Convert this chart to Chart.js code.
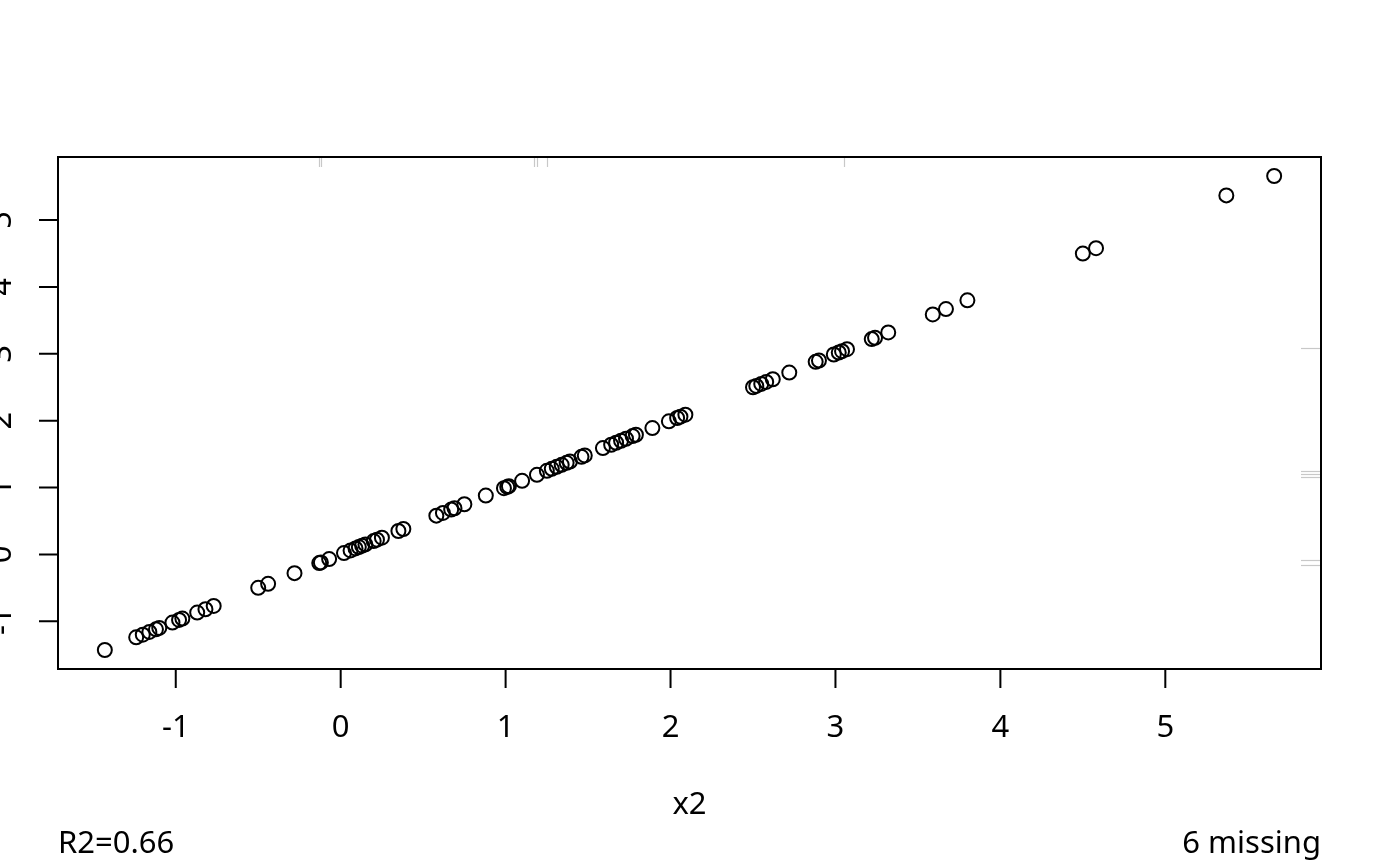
<!DOCTYPE html>
<html>
<head>
<meta charset="utf-8">
<script src="https://cdn.jsdelivr.net/npm/chart.js@4"></script>
<style>
  html, body { margin: 0; padding: 0; background: #fff; }
  #plot { display: block; }
</style>
</head>
<body>
<canvas id="plot" width="1400" height="866"></canvas>
<script>
// values
const x2Values = [
    -1.43, -1.24, -1.20, -1.16, -1.12, -1.10, -1.02, -0.98, -0.96, -0.87, -0.82, -0.77,
    -0.50, -0.44, -0.28, -0.13, -0.12, -0.07, 0.02, 0.06, 0.09, 0.11, 0.13, 0.15, 0.20, 0.22, 0.25, 0.35, 0.38,
    0.58, 0.62, 0.67, 0.69, 0.75, 0.88, 0.99, 1.01, 1.02, 1.10, 1.19, 1.25, 1.28, 1.31, 1.34, 1.37,
    1.39, 1.46, 1.48, 1.59, 1.64, 1.67, 1.70, 1.73, 1.77, 1.79, 1.89, 1.99, 2.04, 2.06, 2.09,
    2.50, 2.52, 2.55, 2.58, 2.62, 2.72, 2.88, 2.90, 2.99, 3.02, 3.04, 3.07, 3.22, 3.24, 3.32,
    3.59, 3.67, 3.80, 4.50, 4.58, 5.37, 5.66
];
const yValues = [
    -1.43, -1.24, -1.20, -1.16, -1.12, -1.10, -1.02, -0.98, -0.96, -0.87, -0.82, -0.77,
    -0.50, -0.44, -0.28, -0.13, -0.12, -0.07, 0.02, 0.06, 0.09, 0.11, 0.13, 0.15, 0.20, 0.22, 0.25, 0.35, 0.38,
    0.58, 0.62, 0.67, 0.69, 0.75, 0.88, 0.99, 1.01, 1.02, 1.10, 1.19, 1.25, 1.28, 1.31, 1.34, 1.37,
    1.39, 1.46, 1.48, 1.59, 1.64, 1.67, 1.70, 1.73, 1.77, 1.79, 1.89, 1.99, 2.04, 2.06, 2.09,
    2.50, 2.52, 2.55, 2.58, 2.62, 2.72, 2.88, 2.90, 2.99, 3.02, 3.04, 3.07, 3.22, 3.24, 3.32,
    3.59, 3.67, 3.80, 4.50, 4.58, 5.37, 5.66
];
// rug marks for the missing values (top: y missing, right: x2 missing)
const rugTopX = [-0.13, -0.12, 1.17, 1.19, 1.25, 3.05];
const rugRightY = [3.09, 1.25, 1.21, 1.16, -0.09, -0.16];

const xTicks = [-1, 0, 1, 2, 3, 4, 5];
const yTicks = [-1, 0, 1, 2, 3, 4, 5];
const xTitle = 'x2';
const noteLeft = 'R2=0.66';
const noteRight = '6 missing';

const FONT = '"Noto Sans", "Open Sans", sans-serif';
const FONT_SIZE = 31;

// axes, box, rug and labels drawn R-style on top of the scatter
const rFrame = {
    id: 'rFrame',
    afterDraw(chart) {
        const ctx = chart.ctx;
        const area = chart.chartArea;
        const xs = chart.scales.x;
        const ys = chart.scales.y;
        ctx.save();

        // rugs
        ctx.strokeStyle = '#c8c8c8';
        ctx.lineWidth = 1.2;
        rugTopX.forEach(v => {
            const px = Math.round(xs.getPixelForValue(v)) + 0.5;
            ctx.beginPath();
            ctx.moveTo(px, area.top);
            ctx.lineTo(px, area.top + 10);
            ctx.stroke();
        });
        rugRightY.forEach(v => {
            const py = Math.round(ys.getPixelForValue(v)) + 0.5;
            ctx.beginPath();
            ctx.moveTo(area.right - 20, py);
            ctx.lineTo(area.right, py);
            ctx.stroke();
        });

        // box
        ctx.strokeStyle = '#000';
        ctx.lineWidth = 2;
        ctx.strokeRect(area.left, area.top, area.right - area.left, area.bottom - area.top);

        // tick marks
        ctx.beginPath();
        xTicks.forEach(v => {
            const px = xs.getPixelForValue(v);
            ctx.moveTo(px, area.bottom);
            ctx.lineTo(px, area.bottom + 19);
        });
        yTicks.forEach(v => {
            const py = ys.getPixelForValue(v);
            ctx.moveTo(area.left, py);
            ctx.lineTo(area.left - 19, py);
        });
        ctx.stroke();

        // tick labels
        ctx.fillStyle = '#000';
        ctx.font = FONT_SIZE + 'px ' + FONT;
        ctx.textAlign = 'center';
        ctx.textBaseline = 'middle';
        xTicks.forEach(v => {
            ctx.fillText(String(v), xs.getPixelForValue(v), area.bottom + 59);
        });
        yTicks.forEach(v => {
            ctx.save();
            ctx.translate(area.left - 56, ys.getPixelForValue(v));
            ctx.rotate(-Math.PI / 2);
            ctx.fillText(String(v), 0, 0);
            ctx.restore();
        });

        // axis title and notes
        ctx.fillText(xTitle, (area.left + area.right) / 2, 805);
        ctx.textAlign = 'left';
        ctx.fillText(noteLeft, area.left, 844);
        ctx.textAlign = 'right';
        ctx.fillText(noteRight, area.right, 844);

        ctx.restore();
    }
};

const points = x2Values.map((v, i) => ({ x: v, y: yValues[i] }));

new Chart(document.getElementById('plot'), {
    type: 'scatter',
    data: {
        datasets: [{
            data: points,
            pointStyle: 'circle',
            pointRadius: 7,
            pointHoverRadius: 7,
            borderWidth: 2,
            borderColor: '#000',
            backgroundColor: 'rgba(0,0,0,0)'
        }]
    },
    options: {
        responsive: false,
        animation: false,
        devicePixelRatio: 1,
        layout: {
            padding: { left: 58, right: 79, top: 157, bottom: 197 }
        },
        plugins: {
            legend: { display: false },
            tooltip: { enabled: false }
        },
        scales: {
            x: {
                type: 'linear',
                display: false,
                min: -1.714,
                max: 5.944
            },
            y: {
                type: 'linear',
                display: false,
                min: -1.714,
                max: 5.944
            }
        }
    },
    plugins: [rFrame]
});
</script>
</body>
</html>
